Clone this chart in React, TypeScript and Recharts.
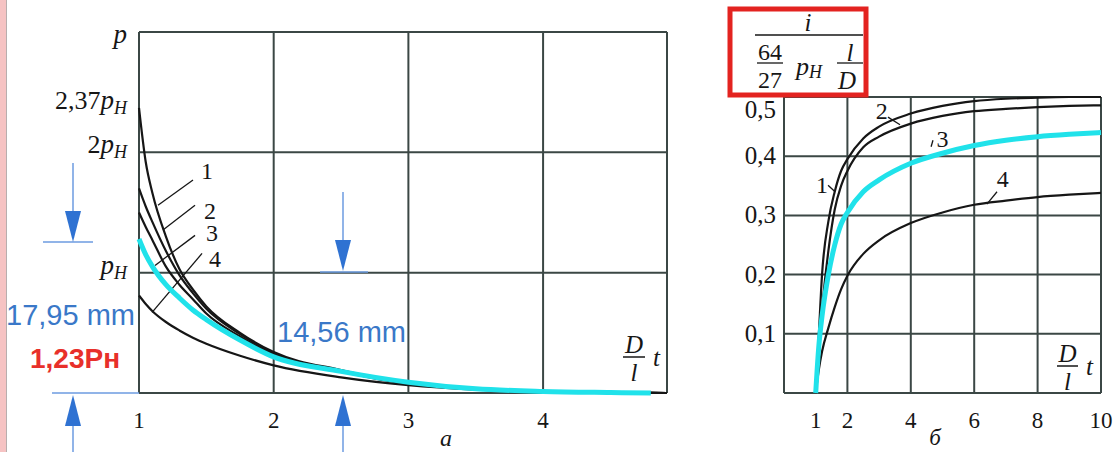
import { LineChart, Line, XAxis, YAxis, ReferenceLine, ReferenceDot } from 'recharts'

// chart a: pressure along the contact, in units of pH
const leftX = [1, 1.05, 1.1, 1.2, 1.3, 1.4, 1.5, 1.75, 2, 2.5, 3, 3.5, 4, 4.5, 4.8, 4.92]
const leftCurve1 = [2.37, 1.92, 1.66, 1.3, 1.03, 0.86, 0.72, 0.5, 0.34, 0.19, 0.08, 0.035, 0.012, 0.004, 0.001, 0]
const leftCurve2 = [1.7, 1.55, 1.42, 1.18, 0.98, 0.83, 0.7, 0.49, 0.33, 0.185, 0.08, 0.035, 0.012, 0.004, 0.001, 0]
const leftCurve3 = [1.5, 1.38, 1.27, 1.05, 0.9, 0.78, 0.66, 0.47, 0.32, 0.18, 0.075, 0.032, 0.011, 0.004, 0.001, 0]
const leftCurve4 = [0.81, 0.74, 0.68, 0.59, 0.52, 0.46, 0.41, 0.31, 0.23, 0.13, 0.065, 0.028, 0.01, 0.003, 0.001, 0]
const leftFit = [1.28, 1.15, 1.05, 0.9, 0.79, 0.69, 0.61, 0.44, 0.3, 0.18, 0.09, 0.035, 0.013, 0.004, 0, null]

const leftXTicks = [1, 2, 3, 4]
const leftYTicks = [1, 2, 2.37, 3]
const leftYPrefix = ['', '2', '2,37', '']
const leftGridX = [1, 2, 3, 4, 4.92]
const leftGridY = [0, 1, 2, 3]

// chart б
const rightX = [1, 1.1, 1.2, 1.4, 1.6, 1.8, 2, 2.5, 3, 4, 5, 6, 7, 8, 9, 10]
const rightCurve1 = [0, 0.1, 0.2, 0.29, 0.34, 0.375, 0.395, 0.43, 0.45, 0.472, 0.485, 0.493, 0.497, 0.499, 0.5, 0.5]
const rightCurve2 = [0, 0.07, 0.14, 0.24, 0.31, 0.35, 0.375, 0.415, 0.433, 0.455, 0.468, 0.476, 0.48, 0.483, 0.485, 0.486]
const rightCurve3 = [0, 0.08, 0.13, 0.2, 0.25, 0.285, 0.305, 0.34, 0.36, 0.388, 0.405, 0.418, 0.427, 0.433, 0.437, 0.44]
const rightCurve4 = [0, 0.04, 0.07, 0.11, 0.145, 0.175, 0.198, 0.235, 0.258, 0.287, 0.305, 0.318, 0.325, 0.331, 0.335, 0.338]

const rightXTicks = [1, 2, 4, 6, 8, 10]
const rightYTicks = [0.1, 0.2, 0.3, 0.4, 0.5]
const rightGridX = [0, 2, 4, 6, 8, 10]
const rightGridY = [0, 0.1, 0.2, 0.3, 0.4, 0.5]

const leftData = leftX.map((x, i) => ({
  x,
  c1: leftCurve1[i],
  c2: leftCurve2[i],
  c3: leftCurve3[i],
  c4: leftCurve4[i],
  fit: leftFit[i],
}))

const rightData = rightX.map((x, i) => ({
  x,
  c1: rightCurve1[i],
  c2: rightCurve2[i],
  c3: rightCurve3[i],
  c4: rightCurve4[i],
}))

// curve number labels with their leader strokes (data coords)
const leftLabels = [
  { n: '1', x: 1.505, y: 1.85, seg: [{ x: 1.401, y: 1.77 }, { x: 1.141, y: 1.56 }] },
  { n: '2', x: 1.527, y: 1.52, seg: [{ x: 1.416, y: 1.56 }, { x: 1.178, y: 1.355 }] },
  { n: '3', x: 1.542, y: 1.33, seg: [{ x: 1.416, y: 1.31 }, { x: 1.119, y: 1.06 }] },
  { n: '4', x: 1.564, y: 1.12, seg: [{ x: 1.468, y: 1.16 }, { x: 1.097, y: 0.67 }] },
]
const rightLabels = [
  { n: '1', x: 1.2, y: 0.352, seg: [{ x: 1.39, y: 0.351 }, { x: 1.61, y: 0.34 }] },
  { n: '2', x: 3.08, y: 0.478, seg: [{ x: 3.28, y: 0.466 }, { x: 3.66, y: 0.453 }] },
  { n: '3', x: 5.0, y: 0.43, seg: [{ x: 4.7, y: 0.427 }, { x: 4.64, y: 0.416 }] },
  { n: '4', x: 6.9, y: 0.363, seg: [{ x: 6.72, y: 0.34 }, { x: 6.4, y: 0.319 }] },
]

const SERIF = '"Liberation Serif", "Times New Roman", serif'
const GRID = '#3b4745'
const INK = '#161616'
const CYAN = '#20e2ea'
const BLUE = '#3a78c8'

function LeftYTick({ x, y, payload }: any) {
  const i = leftYTicks.indexOf(payload.value)
  const top = payload.value === 3
  return (
    <text x={x - 12} y={y + (top ? 11 : 1)} textAnchor="end" fontFamily={SERIF} fontSize={26} fill={INK}>
      {leftYPrefix[i]}
      <tspan fontStyle="italic" fontSize={27}>p</tspan>
      {!top && (
        <tspan fontStyle="italic" fontSize={18} dy={5}>
          H
        </tspan>
      )}
    </text>
  )
}

function XTick({ x, y, payload }: any) {
  return (
    <text x={x} y={y + 35} textAnchor="middle" fontFamily={SERIF} fontSize={23} fill={INK}>
      {payload.value}
    </text>
  )
}

function RightYTick({ x, y, payload }: any) {
  const top = payload.value === 0.5
  return (
    <text x={x - 8} y={y + (top ? 21 : 8)} textAnchor="end" fontFamily={SERIF} fontSize={25} fill={INK}>
      {String(payload.value).replace('.', ',')}
    </text>
  )
}

function Fraction({ x, y, w }: { x: number; y: number; w: number }) {
  // italic D over l, then t — axis caption
  return (
    <g fontFamily={SERIF} fontStyle="italic" fill={INK}>
      <text x={x + w / 2} y={y - 4} textAnchor="middle" fontSize={25}>D</text>
      <line x1={x} x2={x + w} y1={y} y2={y} stroke={INK} strokeWidth={1.5} />
      <text x={x + w / 2} y={y + 24} textAnchor="middle" fontSize={25}>l</text>
      <text x={x + w + 8} y={y + 9} fontSize={25}>t</text>
    </g>
  )
}

function Annotations() {
  const head = (cx: number, tip: number, dir: 1 | -1) =>
    `${cx},${tip} ${cx - 8},${tip - dir * 31} ${cx + 8},${tip - dir * 31}`
  return (
    <svg width={1113} height={452} style={{ position: 'absolute', left: 0, top: 0, pointerEvents: 'none' }}>
      {/* dimension arrows */}
      <g stroke="#6d9be0" strokeWidth={1.5}>
        <line x1={73} x2={73} y1={163} y2={214} />
        <line x1={43} x2={93} y1={242} y2={242} />
        <line x1={52} x2={139} y1={393} y2={393} />
        <line x1={73} x2={73} y1={424} y2={452} />
        <line x1={343} x2={343} y1={192} y2={242} />
        <line x1={320} x2={368} y1={272} y2={272} />
        <line x1={343} x2={343} y1={424} y2={452} />
      </g>
      <g fill="#2f72d2">
        <polygon points={head(73, 242, 1)} />
        <polygon points={head(73, 395, -1)} />
        <polygon points={head(343, 271, 1)} />
        <polygon points={head(343, 395, -1)} />
      </g>
      <g fontFamily='"Liberation Sans", Arial, sans-serif'>
        <text x={6} y={325} fontSize={29} fill={BLUE}>17,95 mm</text>
        <text x={277} y={342} fontSize={29} fill={BLUE}>14,56 mm</text>
        <text x={30} y={368} fontSize={28} fontWeight="bold" fill="#e8302a">1,23Рн</text>
      </g>

      {/* axis captions */}
      <Fraction x={623} y={357} w={22} />
      <Fraction x={1057} y={366} w={21} />
      <text x={446} y={446} textAnchor="middle" fontFamily={SERIF} fontStyle="italic" fontSize={24} fill={INK}>а</text>
      <text x={935} y={445} textAnchor="middle" fontFamily={SERIF} fontStyle="italic" fontSize={23} fill={INK}>б</text>

      {/* y caption of chart б in a red frame */}
      <rect x={730} y={9} width={136} height={86} fill="none" stroke="#e32320" strokeWidth={5} />
      <g fontFamily={SERIF} fill={INK}>
        <text x={808} y={31} textAnchor="middle" fontStyle="italic" fontSize={25}>i</text>
        <line x1={755} x2={863} y1={35} y2={35} stroke={INK} strokeWidth={1.5} />
        <text x={770} y={60} textAnchor="middle" fontSize={24}>64</text>
        <line x1={757} x2={783} y1={63} y2={63} stroke={INK} strokeWidth={1.3} />
        <text x={770} y={88} textAnchor="middle" fontSize={24}>27</text>
        <text x={796} y={75} fontStyle="italic" fontSize={26}>
          p<tspan fontSize={18} dy={3}>H</tspan>
        </text>
        <text x={850} y={61} textAnchor="middle" fontStyle="italic" fontSize={25}>l</text>
        <line x1={837} x2={863} y1={63} y2={63} stroke={INK} strokeWidth={1.3} />
        <text x={847} y={89} textAnchor="middle" fontStyle="italic" fontSize={25}>D</text>
      </g>
    </svg>
  )
}

function labelFor(n: string, size: number) {
  return { value: n, position: 'center' as const, fontSize: size, fill: INK, fontFamily: SERIF }
}

export default function App() {
  return (
    <div
      style={{
        position: 'absolute',
        left: 0,
        top: 0,
        width: 1113,
        height: 452,
        background: '#fff',
        overflow: 'hidden',
      }}
    >
      <div style={{ position: 'absolute', left: 0, top: 0, width: 6, height: 452, background: '#f6c3c3', borderRight: '1px solid #b8aeae' }} />

      <div style={{ position: 'absolute', left: 0, top: 0 }}>
        <LineChart width={700} height={452} data={leftData} margin={{ top: 32, right: 33, bottom: 0, left: 0 }}>
          <XAxis
            dataKey="x"
            type="number"
            domain={[1, 4.92]}
            ticks={leftXTicks}
            interval={0}
            height={59}
            axisLine={false}
            tickLine={false}
            tickSize={0}
            tickMargin={0}
            tick={<XTick />}
          />
          <YAxis
            type="number"
            domain={[0, 3]}
            ticks={leftYTicks}
            interval={0}
            width={139}
            axisLine={false}
            tickLine={false}
            tickSize={0}
            tickMargin={0}
            tick={<LeftYTick />}
          />
          {leftGridX.map((v) => (
            <ReferenceLine key={'lx' + v} x={v} stroke={GRID} strokeWidth={2} />
          ))}
          {leftGridY.map((v) => (
            <ReferenceLine key={'ly' + v} y={v} stroke={GRID} strokeWidth={2} />
          ))}
          {leftLabels.map((l) => (
            <ReferenceLine key={'ls' + l.n} segment={l.seg} stroke={INK} strokeWidth={1.3} ifOverflow="visible" />
          ))}
          <Line type="monotone" dataKey="c1" stroke={INK} strokeWidth={2.2} dot={false} isAnimationActive={false} />
          <Line type="monotone" dataKey="c2" stroke={INK} strokeWidth={2.2} dot={false} isAnimationActive={false} />
          <Line type="monotone" dataKey="c3" stroke={INK} strokeWidth={2.2} dot={false} isAnimationActive={false} />
          <Line type="monotone" dataKey="c4" stroke={INK} strokeWidth={2.2} dot={false} isAnimationActive={false} />
          <Line type="monotone" dataKey="fit" stroke={CYAN} strokeWidth={5} dot={false} isAnimationActive={false} />
          {leftLabels.map((l) => (
            <ReferenceDot key={'ld' + l.n} x={l.x} y={l.y} r={0} stroke="none" fill="none" ifOverflow="visible" label={labelFor(l.n, 24)} />
          ))}
        </LineChart>
      </div>

      <div style={{ position: 'absolute', left: 700, top: 0 }}>
        <LineChart width={413} height={452} data={rightData} margin={{ top: 97, right: 12, bottom: 0, left: 0 }}>
          <XAxis
            dataKey="x"
            type="number"
            domain={[0, 10]}
            ticks={rightXTicks}
            interval={0}
            height={59}
            axisLine={false}
            tickLine={false}
            tickSize={0}
            tickMargin={0}
            tick={<XTick />}
          />
          <YAxis
            type="number"
            domain={[0, 0.5]}
            ticks={rightYTicks}
            interval={0}
            width={84}
            axisLine={false}
            tickLine={false}
            tickSize={0}
            tickMargin={0}
            tick={<RightYTick />}
          />
          {rightGridX.map((v) => (
            <ReferenceLine key={'rx' + v} x={v} stroke={GRID} strokeWidth={2} />
          ))}
          {rightGridY.map((v) => (
            <ReferenceLine key={'ry' + v} y={v} stroke={GRID} strokeWidth={2} />
          ))}
          {rightLabels.map((l) => (
            <ReferenceLine key={'rs' + l.n} segment={l.seg} stroke={INK} strokeWidth={1.3} ifOverflow="visible" />
          ))}
          <Line type="monotone" dataKey="c1" stroke={INK} strokeWidth={2.2} dot={false} isAnimationActive={false} />
          <Line type="monotone" dataKey="c2" stroke={INK} strokeWidth={2.2} dot={false} isAnimationActive={false} />
          <Line type="monotone" dataKey="c4" stroke={INK} strokeWidth={2.2} dot={false} isAnimationActive={false} />
          <Line type="monotone" dataKey="c3" stroke={CYAN} strokeWidth={5} dot={false} isAnimationActive={false} />
          {rightLabels.map((l) => (
            <ReferenceDot key={'rd' + l.n} x={l.x} y={l.y} r={0} stroke="none" fill="none" ifOverflow="visible" label={labelFor(l.n, 24)} />
          ))}
        </LineChart>
      </div>

      <Annotations />
    </div>
  )
}
